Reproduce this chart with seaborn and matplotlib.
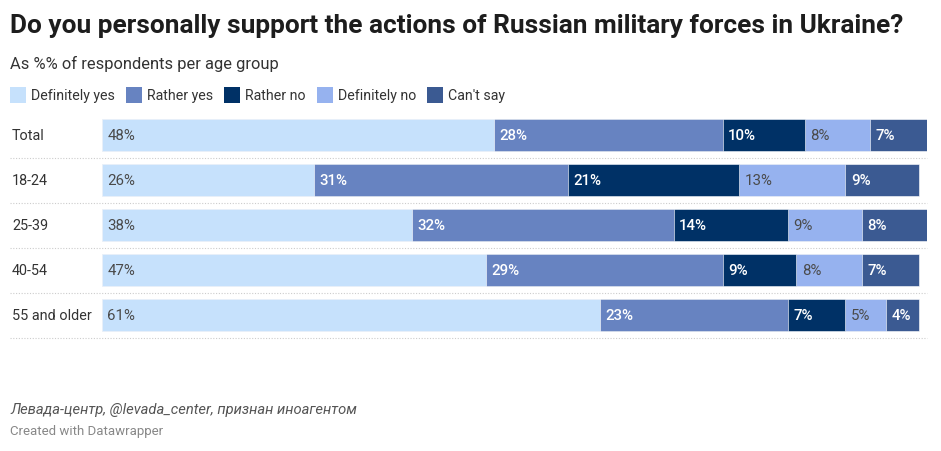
import matplotlib
matplotlib.use("Agg")
import matplotlib.pyplot as plt
import seaborn as sns
import pandas as pd
import numpy as np
from matplotlib.patches import Rectangle

# ---- data ----
groups = ["Total", "18-24", "25-39", "40-54", "55 and older"]
answers = ["Definitely yes", "Rather yes", "Rather no", "Definitely no", "Can't say"]
definitely_yes = [48, 26, 38, 47, 61]
rather_yes = [28, 31, 32, 29, 23]
rather_no = [10, 21, 14, 9, 7]
definitely_no = [8, 13, 9, 8, 5]
cant_say = [7, 9, 8, 7, 4]
series = [definitely_yes, rather_yes, rather_no, definitely_no, cant_say]

colors = ["#c6e1fc", "#6783c1", "#003166", "#96b2ef", "#3b5a92"]
label_dark = [True, False, False, True, False]

title = "Do you personally support the actions of Russian military forces in Ukraine?"
subtitle = "As %% of respondents per age group"
source = "Левада-центр, @levada_center, признан иноагентом"
credit = "Created with Datawrapper"

sns.set_theme(style="white")
plt.rcParams["font.family"] = ["Roboto", "DejaVu Sans"]

W, H = 941, 452
fig = plt.figure(figsize=(W / 100, H / 100), dpi=100)

def fx(px):
    return px / W

def fy(py):
    return 1 - py / H

# axes: data 0 at x=102px, 8.17 px per percent
ppu = 8.17
ax_left = 102
ax_right = 102 + 101 * ppu
top_px, bot_px = 113.5, 338.5
ax = fig.add_axes([fx(ax_left), fy(bot_px), (ax_right - ax_left) / W, (bot_px - top_px) / H])

cum = np.zeros(len(groups))
cums = []
for s in series:
    cum = cum + np.array(s)
    cums.append(cum.copy())

# draw cumulative bars from the longest to shortest so each segment shows
for k in range(len(series) - 1, -1, -1):
    d = pd.DataFrame({"group": groups, "val": cums[k]})
    sns.barplot(data=d, y="group", x="val", order=groups, orient="h",
                color=colors[k], width=0.71, ax=ax, saturation=1,
                edgecolor="white", linewidth=0.4)

ax.set_xlim(0, 101)
ax.set_ylim(len(groups) - 0.5, -0.5)
ax.set_xlabel("")
ax.set_ylabel("")
ax.set_xticks([])
ax.set_yticks([])
for sp in ax.spines.values():
    sp.set_visible(False)
ax.patch.set_alpha(0)

# value labels
for k, s in enumerate(series):
    lefts = cums[k] - np.array(s)
    for i, v in enumerate(s):
        if label_dark[k]:
            ax.text(lefts[i] + 0.65, i, f"{v}%", va="center", ha="left",
                    fontsize=10.8, color="#4a4a4a")
        else:
            ax.text(lefts[i] + 0.65, i, f"{v}%", va="center", ha="left",
                    fontsize=10.8, color="white", fontweight="medium")

# row labels and dotted separators
x_sep_left = (10 - ax_left) / ppu
for i, g in enumerate(groups):
    ax.text(x_sep_left + 2 / ppu, i, g, va="center", ha="left",
            fontsize=10.4, color="#333333", clip_on=False)
    ax.plot([x_sep_left, 101], [i + 0.5, i + 0.5], linestyle=(0, (1, 1.5)),
            color="#cccccc", linewidth=0.8, clip_on=False)

# title, subtitle
fig.text(fx(10), fy(26), title, fontsize=18.9, fontweight="bold",
         color="#1d1d1d", va="center", ha="left")
fig.text(fx(10), fy(64), subtitle, fontsize=11.9, color="#333333",
         va="center", ha="left")

# legend
renderer = fig.canvas.get_renderer()
lx = 10
ly = 96
for name, c in zip(answers, colors):
    fig.add_artist(Rectangle((fx(lx), fy(ly + 8)), 16 / W, 16 / H,
                             transform=fig.transFigure, facecolor=c,
                             edgecolor="none"))
    t = fig.text(fx(lx + 21), fy(ly), name, fontsize=10.2, color="#333333",
                 va="center", ha="left")
    bb = t.get_window_extent(renderer)
    lx = bb.x1 + 11

# footer
fig.text(fx(10), fy(410), source, fontsize=10.6, style="italic",
         color="#555555", va="center", ha="left")
fig.text(fx(10), fy(432), credit, fontsize=9.5, color="#888888",
         va="center", ha="left")

fig.savefig("out.png", dpi=100)
